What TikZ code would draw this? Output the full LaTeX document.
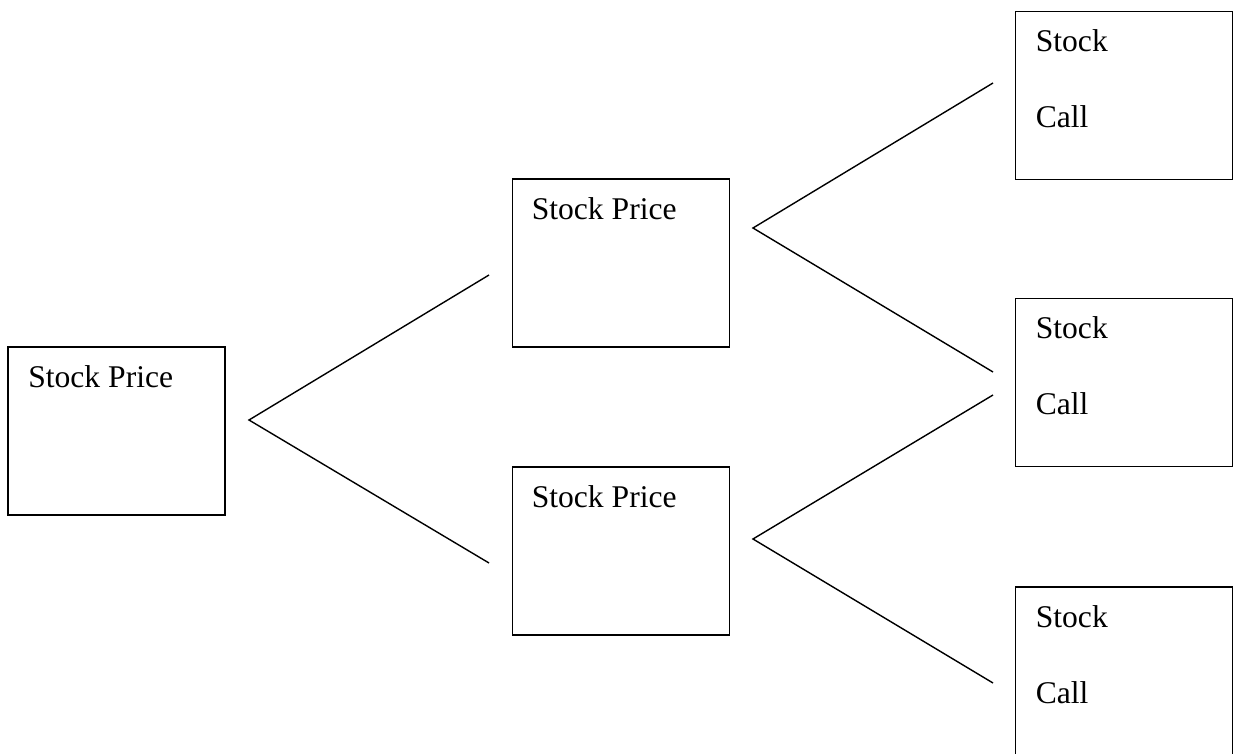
\documentclass[tikz,border=0pt]{standalone}
\usepackage{fontspec}
\setmainfont{Liberation Serif}
\usepackage{tikz}
\usetikzlibrary{shapes,arrows,calc}
\tikzstyle{block} = [rectangle, draw, line width=1.8pt, minimum width=217pt, minimum height=168pt, inner sep=0pt]
\tikzstyle{txt} = [anchor=base west, inner sep=0pt, font=\fontsize{31.6}{38}\selectfont]
\tikzstyle{line} = [draw, line width=1.4pt]

\begin{document}
\begin{tikzpicture}[x=1pt, y=-1pt]
    \useasboundingbox (0,0) rectangle (1233,754);
    % Place nodes

    \node [block] (node_1) at (116.5,431) {};
    \node [block] (node_2) at (621,263) {};
    \node [block] (node_3) at (621,551) {};
    \node [block] (node_4) at (1124,95.5) {};
    \node [block] (node_5) at (1124,382.5) {};
    \node [block] (node_6) at (1124,671) {};

    \node [txt] (text_1) at ($(node_1.north west)+(21,41)$) {Stock Price};
    \node [txt] (text_2) at ($(node_2.north west)+(20,41)$) {Stock Price};
    \node [txt] (text_3) at ($(node_3.north west)+(20,41)$) {Stock Price};
    \node [txt] (text_4a) at ($(node_4.north west)+(21,41)$) {Stock};
    \node [txt] (text_4b) at ($(node_4.north west)+(21,117)$) {Call};
    \node [txt] (text_5a) at ($(node_5.north west)+(21,41)$) {Stock};
    \node [txt] (text_5b) at ($(node_5.north west)+(21,117)$) {Call};
    \node [txt] (text_6a) at ($(node_6.north west)+(21,41)$) {Stock};
    \node [txt] (text_6b) at ($(node_6.north west)+(21,117)$) {Call};

    % Branch points
    \coordinate (fork_1) at (249,420);
    \coordinate (fork_2) at (753,228);
    \coordinate (fork_3) at (753,539);
    \coordinate (end_1a) at (489,275);
    \coordinate (end_1b) at (489,563);
    \coordinate (end_2a) at (993,83);
    \coordinate (end_2b) at (993,372);
    \coordinate (end_3a) at (993,395);
    \coordinate (end_3b) at (993,683);

    \path [line] (end_1a) -- (fork_1) -- (end_1b);
    \path [line] (end_2a) -- (fork_2) -- (end_2b);
    \path [line] (end_3a) -- (fork_3) -- (end_3b);

\end{tikzpicture}
\end{document}
